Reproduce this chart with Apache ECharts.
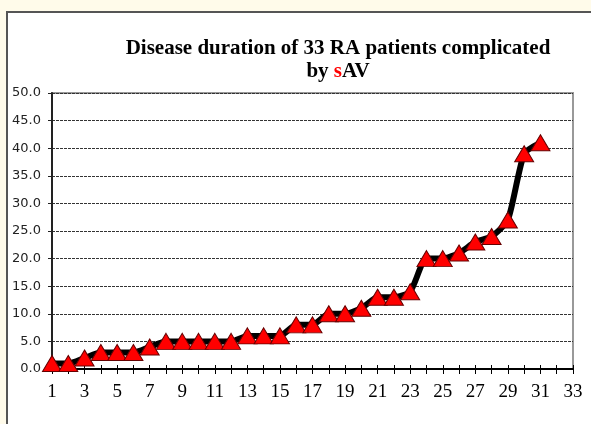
<!DOCTYPE html>
<html>
<head>
<meta charset="utf-8">
<script src="https://cdn.jsdelivr.net/npm/echarts@6/dist/echarts.min.js"></script>
<style>
    html, body { margin: 0; padding: 0; }
    body { width: 591px; height: 424px; background: #FFFBEA; position: relative; overflow: hidden; }
    #panel { position: absolute; left: 6px; top: 11px; width: 600px; height: 430px; background: #fff; border-left: 2px solid #555; border-top: 2px solid #555; }
    #main { position: absolute; left: 0; top: 0; width: 591px; height: 424px; }
</style>
</head>
<body>
<div id="panel"></div>
<div id="main"></div>
<script>
    // patients (x) and disease duration in years (y)
    var patients = [];
    for (var i = 1; i <= 33; i++) { patients.push(String(i)); }
    var duration = [1, 1, 2, 3, 3, 3, 4, 5, 5, 5, 5, 5, 6, 6, 6, 8, 8, 10, 10, 11,
        13, 13, 14, 20, 20, 21, 23, 24, 27, 39, 41];
    var yTicks = { min: 0, max: 50, step: 5 };

    var chart = echarts.init(document.getElementById('main'));

    var option = {
        animation: false,
        backgroundColor: 'transparent',
        title: {
            text: '{a|Disease duration of 33 RA patients complicated}\n{a|by }{r|s}{a|AV}',
            left: 333,
            top: 32,
            textAlign: 'center',
            textStyle: {
                rich: {
                    a: { fontFamily: 'Liberation Serif', fontWeight: 'bold', fontSize: 21, color: '#000', lineHeight: 23 },
                    r: { fontFamily: 'Liberation Serif', fontWeight: 'bold', fontSize: 21, color: '#FF0000', lineHeight: 23 }
                }
            }
        },
        grid: {
            left: 52,
            right: 18,
            top: 93,
            bottom: 55,
            show: true,
            borderColor: '#999',
            borderWidth: 2,
            backgroundColor: '#fff'
        },
        xAxis: [
            {
                type: 'category',
                data: patients,
                boundaryGap: false,
                axisLine: { lineStyle: { color: '#000', width: 2 } },
                axisTick: { show: true, interval: 0, length: 5, lineStyle: { color: '#000' } },
                axisLabel: {
                    interval: 1,
                    margin: 14,
                    fontFamily: 'Liberation Serif',
                    fontSize: 19,
                    color: '#000'
                },
                splitLine: { show: false }
            },
            {
                type: 'category',
                data: patients,
                position: 'bottom',
                boundaryGap: false,
                axisLine: { show: false },
                axisTick: { show: true, inside: true, interval: 0, length: 4, lineStyle: { color: '#000' } },
                axisLabel: { show: false },
                splitLine: { show: false }
            }
        ],
        yAxis: {
            type: 'value',
            min: yTicks.min,
            max: yTicks.max,
            interval: yTicks.step,
            axisLine: { show: true, lineStyle: { color: '#222', width: 2 } },
            axisTick: { show: true, length: 4, lineStyle: { color: '#222' } },
            axisLabel: {
                margin: 11,
                fontFamily: 'DejaVu Sans',
                fontSize: 13,
                color: '#222',
                formatter: function (v) { return v.toFixed(1); }
            },
            splitLine: { lineStyle: { color: '#333', type: [3, 1], width: 1 } }
        },
        series: [{
            type: 'line',
            data: duration,
            smooth: 0.2,
            showAllSymbol: true,
            lineStyle: { color: '#000', width: 6 },
            symbol: 'triangle',
            symbolSize: [19, 16],
            itemStyle: { color: '#FF0000', borderColor: '#600', borderWidth: 1 },
            z: 3
        }]
    };

    chart.setOption(option);
</script>
</body>
</html>
